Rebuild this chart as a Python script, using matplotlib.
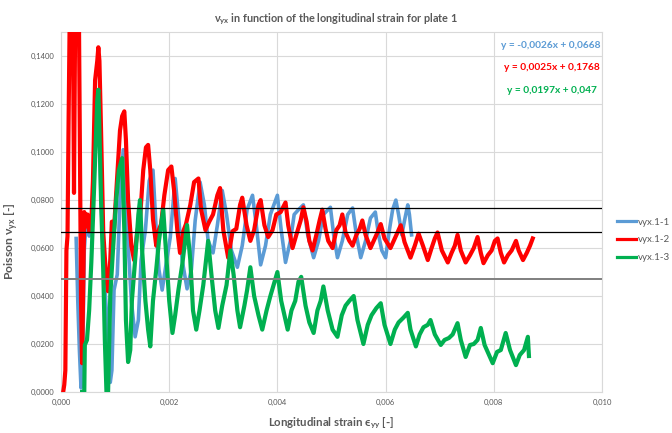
import numpy as np
import matplotlib
matplotlib.use("Agg")
import matplotlib.pyplot as plt
from matplotlib.ticker import FuncFormatter, MultipleLocator

# --- DATA ---
# vyx.1-1 (blue)
x_11 = [0.00028, 0.00030, 0.00031, 0.00034, 0.00037, 0.00040, 0.00043, 0.00046, 0.00052, 0.00057,
        0.00063, 0.00069, 0.00074, 0.00080, 0.00085, 0.00091, 0.00094, 0.00098, 0.00104, 0.00109,
        0.00115, 0.00119, 0.00124, 0.00130, 0.00137, 0.00143, 0.00148, 0.00156, 0.00163, 0.00170,
        0.00176, 0.00181, 0.00187, 0.00194, 0.00202, 0.00211, 0.00217, 0.00224, 0.00233, 0.00241,
        0.00248, 0.00257, 0.00265, 0.00272, 0.00281, 0.00289, 0.00298, 0.00306, 0.00315, 0.00326,
        0.00335, 0.00344, 0.00354, 0.00361, 0.00369, 0.00378, 0.00387, 0.00400, 0.00407, 0.00415,
        0.00424, 0.00431, 0.00439, 0.00448, 0.00456, 0.00467, 0.00476, 0.00485, 0.00498, 0.00504,
        0.00511, 0.00520, 0.00530, 0.00539, 0.00546, 0.00554, 0.00563, 0.00572, 0.00581, 0.00587,
        0.00593, 0.00600, 0.00607, 0.00613, 0.00619, 0.00624, 0.00630, 0.00635, 0.00641, 0.00644,
        0.00648]
y_11 = [0.0640, 0.0470, 0.0380, 0.0175, 0.0017, 0.0130, 0.0590, 0.0695, 0.0650, 0.0740,
        0.1010, 0.1250, 0.0800, 0.0470, 0.0300, 0.0040, 0.0090, 0.0425, 0.0490, 0.0800,
        0.1010, 0.0800, 0.0620, 0.0380, 0.0230, 0.0300, 0.0550, 0.0675, 0.0880, 0.0925,
        0.0675, 0.0510, 0.0425, 0.0530, 0.0646, 0.0890, 0.0740, 0.0550, 0.0430, 0.0510,
        0.0715, 0.0875, 0.0780, 0.0630, 0.0580, 0.0695, 0.0840, 0.0740, 0.0590, 0.0520,
        0.0610, 0.0760, 0.0820, 0.0695, 0.0530, 0.0610, 0.0740, 0.0820, 0.0675, 0.0540,
        0.0630, 0.0740, 0.0760, 0.0780, 0.0655, 0.0560, 0.0630, 0.0740, 0.0770, 0.0655,
        0.0560, 0.0630, 0.0740, 0.0767, 0.0655, 0.0560, 0.0630, 0.0725, 0.0750, 0.0655,
        0.0590, 0.0560, 0.0675, 0.0760, 0.0800, 0.0740, 0.0655, 0.0715, 0.0780, 0.0740,
        0.0655]

# vyx.1-2 (red)
x_12 = [0.00004, 0.00006, 0.00008, 0.00010, 0.00012, 0.00014, 0.00016, 0.00022, 0.00024, 0.00026,
        0.00029, 0.00033, 0.00035, 0.00037, 0.00039, 0.00041, 0.00043, 0.00046, 0.00049, 0.00052,
        0.00056, 0.00059, 0.00063, 0.00067, 0.00069, 0.00071, 0.00074, 0.00078, 0.00083, 0.00087,
        0.00091, 0.00094, 0.00098, 0.00104, 0.00109, 0.00113, 0.00117, 0.00120, 0.00124, 0.00130,
        0.00135, 0.00141, 0.00146, 0.00152, 0.00157, 0.00161, 0.00165, 0.00170, 0.00176, 0.00180,
        0.00185, 0.00191, 0.00198, 0.00204, 0.00209, 0.00215, 0.00220, 0.00226, 0.00231, 0.00239,
        0.00246, 0.00254, 0.00259, 0.00267, 0.00274, 0.00281, 0.00289, 0.00294, 0.00300, 0.00309,
        0.00317, 0.00324, 0.00331, 0.00335, 0.00343, 0.00350, 0.00357, 0.00365, 0.00369, 0.00376,
        0.00383, 0.00391, 0.00398, 0.00406, 0.00415, 0.00420, 0.00428, 0.00435, 0.00443, 0.00448,
        0.00454, 0.00459, 0.00465, 0.00472, 0.00478, 0.00483, 0.00489, 0.00494, 0.00502, 0.00509,
        0.00515, 0.00520, 0.00526, 0.00533, 0.00539, 0.00546, 0.00552, 0.00557, 0.00563, 0.00572,
        0.00580, 0.00585, 0.00591, 0.00598, 0.00609, 0.00617, 0.00622, 0.00628, 0.00635, 0.00646,
        0.00654, 0.00661, 0.00669, 0.00678, 0.00685, 0.00691, 0.00696, 0.00704, 0.00715, 0.00722,
        0.00728, 0.00733, 0.00739, 0.00748, 0.00756, 0.00763, 0.00770, 0.00776, 0.00781, 0.00789,
        0.00796, 0.00802, 0.00807, 0.00813, 0.00819, 0.00826, 0.00833, 0.00841, 0.00846, 0.00854,
        0.00861, 0.00867, 0.00872]
y_12 = [0.0000, 0.0030, 0.0090, 0.0590, 0.0650, 0.1130, 0.1550, 0.1550, 0.0830, 0.1510,
        0.1600, 0.1600, 0.1000, 0.0380, 0.0120, 0.0420, 0.0750, 0.0690, 0.0740, 0.0670,
        0.0710, 0.0880, 0.1300, 0.1380, 0.1437, 0.1380, 0.1090, 0.0670, 0.0490, 0.0420,
        0.0550, 0.0710, 0.0680, 0.0900, 0.1090, 0.1150, 0.1170, 0.1050, 0.0800, 0.0610,
        0.0550, 0.0670, 0.0720, 0.0925, 0.1020, 0.1030, 0.0925, 0.0720, 0.0610, 0.0670,
        0.0700, 0.0820, 0.0925, 0.0940, 0.0840, 0.0675, 0.0580, 0.0670, 0.0700, 0.0780,
        0.0875, 0.0890, 0.0760, 0.0675, 0.0710, 0.0740, 0.0820, 0.0850, 0.0675, 0.0560,
        0.0670, 0.0680, 0.0780, 0.0810, 0.0695, 0.0630, 0.0675, 0.0780, 0.0800, 0.0695,
        0.0646, 0.0675, 0.0740, 0.0750, 0.0790, 0.0695, 0.0600, 0.0655, 0.0715, 0.0770,
        0.0710, 0.0630, 0.0590, 0.0655, 0.0715, 0.0760, 0.0680, 0.0630, 0.0600, 0.0675,
        0.0695, 0.0740, 0.0665, 0.0630, 0.0610, 0.0655, 0.0680, 0.0715, 0.0655, 0.0600,
        0.0640, 0.0665, 0.0700, 0.0640, 0.0600, 0.0640, 0.0665, 0.0695, 0.0625, 0.0560,
        0.0610, 0.0660, 0.0610, 0.0550, 0.0600, 0.0640, 0.0665, 0.0590, 0.0540, 0.0580,
        0.0610, 0.0655, 0.0590, 0.0540, 0.0570, 0.0600, 0.0646, 0.0580, 0.0537, 0.0570,
        0.0590, 0.0630, 0.0640, 0.0580, 0.0540, 0.0570, 0.0590, 0.0630, 0.0590, 0.0550,
        0.0580, 0.0610, 0.0640]

# vyx.1-3 (green)
x_13 = [0.00039, 0.00043, 0.00044, 0.00048, 0.00052, 0.00056, 0.00059, 0.00063, 0.00067, 0.00069,
        0.00071, 0.00074, 0.00078, 0.00081, 0.00084, 0.00087, 0.00091, 0.00096, 0.00102, 0.00107,
        0.00113, 0.00117, 0.00120, 0.00124, 0.00128, 0.00131, 0.00137, 0.00143, 0.00146, 0.00150,
        0.00156, 0.00161, 0.00165, 0.00170, 0.00176, 0.00181, 0.00189, 0.00194, 0.00200, 0.00206,
        0.00211, 0.00217, 0.00224, 0.00233, 0.00239, 0.00244, 0.00250, 0.00256, 0.00263, 0.00272,
        0.00278, 0.00285, 0.00291, 0.00298, 0.00306, 0.00313, 0.00319, 0.00326, 0.00331, 0.00339,
        0.00344, 0.00350, 0.00357, 0.00365, 0.00372, 0.00380, 0.00387, 0.00393, 0.00400, 0.00407,
        0.00419, 0.00426, 0.00433, 0.00439, 0.00444, 0.00452, 0.00459, 0.00467, 0.00474, 0.00480,
        0.00485, 0.00493, 0.00502, 0.00511, 0.00519, 0.00526, 0.00533, 0.00541, 0.00548, 0.00559,
        0.00567, 0.00574, 0.00583, 0.00591, 0.00598, 0.00609, 0.00617, 0.00624, 0.00633, 0.00641,
        0.00646, 0.00656, 0.00663, 0.00670, 0.00678, 0.00683, 0.00691, 0.00702, 0.00709, 0.00717,
        0.00724, 0.00733, 0.00739, 0.00748, 0.00756, 0.00763, 0.00770, 0.00776, 0.00783, 0.00798,
        0.00806, 0.00813, 0.00822, 0.00830, 0.00841, 0.00848, 0.00856, 0.00863, 0.00865]
y_13 = [0.0000, 0.0000, 0.0196, 0.0217, 0.0340, 0.0540, 0.0717, 0.0967, 0.1217, 0.1260,
        0.1090, 0.0800, 0.0510, 0.0217, 0.0000, 0.0000, 0.0400, 0.0590, 0.0800, 0.0925,
        0.0975, 0.0675, 0.0300, 0.0125, 0.0175, 0.0380, 0.0550, 0.0740, 0.0800, 0.0590,
        0.0380, 0.0260, 0.0190, 0.0380, 0.0510, 0.0630, 0.0760, 0.0590, 0.0380, 0.0246,
        0.0320, 0.0425, 0.0530, 0.0696, 0.0550, 0.0340, 0.0260, 0.0340, 0.0446, 0.0630,
        0.0490, 0.0340, 0.0267, 0.0360, 0.0446, 0.0590, 0.0490, 0.0340, 0.0270, 0.0360,
        0.0425, 0.0520, 0.0400, 0.0320, 0.0260, 0.0340, 0.0400, 0.0446, 0.0500, 0.0380,
        0.0260, 0.0340, 0.0380, 0.0460, 0.0480, 0.0360, 0.0290, 0.0246, 0.0340, 0.0380,
        0.0440, 0.0340, 0.0260, 0.0230, 0.0320, 0.0360, 0.0380, 0.0400, 0.0300, 0.0200,
        0.0280, 0.0320, 0.0350, 0.0370, 0.0280, 0.0200, 0.0260, 0.0290, 0.0310, 0.0330,
        0.0260, 0.0190, 0.0240, 0.0270, 0.0280, 0.0300, 0.0240, 0.0196, 0.0217, 0.0225,
        0.0240, 0.0287, 0.0217, 0.0146, 0.0196, 0.0200, 0.0217, 0.0267, 0.0196, 0.0120,
        0.0167, 0.0175, 0.0246, 0.0175, 0.0112, 0.0154, 0.0175, 0.0230, 0.0150]

series_names = ["vyx.1-1", "vyx.1-2", "vyx.1-3"]
series_colors = ["#5B9BD5", "#FF0000", "#00B050"]
ref_levels = [0.0768, 0.0668, 0.047]
equations = ["y = -0,0026x + 0,0668", "y = 0,0025x + 0,1768", "y = 0,0197x + 0,047"]

plt.rcParams["font.family"] = ["Lato", "DejaVu Sans"]
plt.rcParams["mathtext.fontset"] = "dejavusans"

fig = plt.figure(figsize=(6.72, 4.33), dpi=100)
ax = fig.add_axes([0.0908, 0.0947, 0.805, 0.831])

ax.plot(x_11, y_11, color=series_colors[0], linewidth=2.6, label=series_names[0], zorder=3)
ax.plot(x_12, y_12, color=series_colors[1], linewidth=3.0, label=series_names[1], zorder=4)
ax.plot(x_13, y_13, color=series_colors[2], linewidth=3.0, label=series_names[2], zorder=5)

ax.axhline(ref_levels[0], color="black", linewidth=0.9, zorder=6)
ax.axhline(ref_levels[1], color="black", linewidth=0.9, zorder=6)
ax.axhline(ref_levels[2], color="#7F7F7F", linewidth=1.4, zorder=6)

ax.set_xlim(0, 0.010)
ax.set_ylim(0, 0.15)
ax.xaxis.set_major_locator(MultipleLocator(0.002))
ax.yaxis.set_major_locator(MultipleLocator(0.02))
ax.xaxis.set_major_formatter(FuncFormatter(lambda v, p: f"{v:.3f}".replace(".", ",")))
ax.yaxis.set_major_formatter(FuncFormatter(lambda v, p: f"{v:.4f}".replace(".", ",") if v < 0.149 else ""))
ax.tick_params(length=0, labelsize=5.5, labelcolor="#595959", pad=5)
ax.grid(True, color="#D9D9D9", linewidth=0.8, zorder=0)
ax.set_axisbelow(True)
for s in ax.spines.values():
    s.set_color("#D9D9D9")
    s.set_linewidth(0.8)

ax.set_xlabel("Longitudinal strain ϵ$_{\\mathregular{yy}}$ [-]", fontsize=8.2, fontweight="bold",
              color="#595959", labelpad=7)
ax.set_ylabel("Poisson ν$_{\\mathregular{yx}}$ [-]", fontsize=8.8, fontweight="bold",
              color="#595959", labelpad=10)
ax.yaxis.set_label_coords(-0.075, 0.42)

fig.text(0.5, 0.955, "ν$_{\\mathregular{yx}}$ in function of the longitudinal strain for plate 1",
         ha="center", va="center", fontsize=7.8, fontweight="bold", color="#595959")

fig.text(0.894, 0.896, equations[0], ha="right", va="center", fontsize=7.3,
         fontweight="bold", color=series_colors[0])
fig.text(0.893, 0.843, equations[1], ha="right", va="center", fontsize=7.3,
         fontweight="bold", color=series_colors[1])
fig.text(0.888, 0.792, equations[2], ha="right", va="center", fontsize=7.3,
         fontweight="bold", color=series_colors[2])

leg = fig.legend(loc="center left", bbox_to_anchor=(0.905, 0.446), frameon=False,
                 fontsize=7, handlelength=2.0, handletextpad=0.2, labelspacing=0.9)
for line in leg.get_lines():
    line.set_linewidth(2.3)
for t in leg.get_texts():
    t.set_color("#595959")

fig.savefig("out.png", dpi=100)
